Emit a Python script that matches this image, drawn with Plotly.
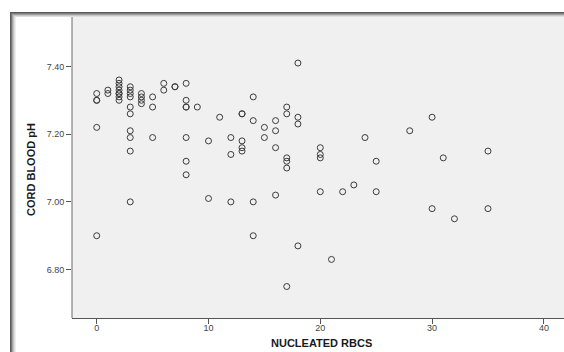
import plotly.graph_objects as go

# Data (NUCLEATED RBCS vs CORD BLOOD pH)
nucleated_rbcs = (
    [0] * 5 + [1] * 2 + [2] * 8 + [3] * 10 + [4] * 4 + [5] * 3 + [6] * 2 + [7] * 2 +
    [8] * 7 + [9] + [10] * 2 + [11] + [12] * 3 + [13] * 5 + [14] * 4 + [15] * 2 +
    [16] * 4 + [17] * 6 + [18] * 4 + [20] * 4 + [21] + [22] + [23] + [24] + [25] * 2 +
    [28] + [30] * 2 + [31] + [32] + [35] * 2
)
cord_blood_ph = [
    7.32, 7.30, 7.30, 7.22, 6.90,                     # 0
    7.33, 7.32,                                       # 1
    7.36, 7.35, 7.34, 7.33, 7.32, 7.32, 7.31, 7.30,   # 2
    7.34, 7.33, 7.32, 7.31, 7.28, 7.26, 7.21, 7.19, 7.15, 7.00,  # 3
    7.32, 7.31, 7.30, 7.29,                           # 4
    7.31, 7.28, 7.19,                                 # 5
    7.35, 7.33,                                       # 6
    7.34, 7.34,                                       # 7
    7.35, 7.30, 7.28, 7.28, 7.19, 7.12, 7.08,         # 8
    7.28,                                             # 9
    7.18, 7.01,                                       # 10
    7.25,                                             # 11
    7.19, 7.14, 7.00,                                 # 12
    7.26, 7.26, 7.18, 7.16, 7.15,                     # 13
    7.31, 7.24, 7.00, 6.90,                           # 14
    7.22, 7.19,                                       # 15
    7.24, 7.21, 7.16, 7.02,                           # 16
    7.28, 7.26, 7.13, 7.12, 7.10, 6.75,               # 17
    7.41, 7.25, 7.23, 6.87,                           # 18
    7.16, 7.14, 7.13, 7.03,                           # 20
    6.83,                                             # 21
    7.03,                                             # 22
    7.05,                                             # 23
    7.19,                                             # 24
    7.12, 7.03,                                       # 25
    7.21,                                             # 28
    7.25, 6.98,                                       # 30
    7.13,                                             # 31
    6.95,                                             # 32
    7.15, 6.98,                                       # 35
]

x_ticks = [0, 10, 20, 30, 40]
x_tick_labels = ["0", "10", "20", "30", "40"]
y_ticks = [6.80, 7.00, 7.20, 7.40]
y_tick_labels = ["6.80", "7.00", "7.20", "7.40"]

W, H = 564, 352
L, R, T, B = 72, 0, 17, 34
pw, ph = W - L - R, H - T - B


def px(x):
    return (x - L) / pw


def py(y):
    return (H - B - y) / ph


fig = go.Figure()
fig.add_trace(go.Scatter(
    x=nucleated_rbcs, y=cord_blood_ph, mode="markers",
    marker=dict(symbol="circle-open", size=6, color="#3c3c3c",
                line=dict(width=1, color="#3c3c3c")),
    hoverinfo="x+y", showlegend=False,
))

shapes = []
# frame shadow gradient (left and top)
grads = ["#5a5a5a", "#7a7a7a", "#a0a0a0", "#c4c4c4", "#dedede", "#eeeeee"]
for i, c in enumerate(grads):
    shapes.append(dict(type="rect", xref="paper", yref="paper",
                       x0=px(10 + i), x1=px(11 + i), y0=py(12 + i), y1=py(H + 5),
                       line=dict(width=0), fillcolor=c, layer="above"))
for i, c in enumerate(grads[:5]):
    shapes.append(dict(type="rect", xref="paper", yref="paper",
                       x0=px(10 + i), x1=px(W + 5), y0=py(12 + i), y1=py(13 + i),
                       line=dict(width=0), fillcolor=c, layer="above"))
# plot-area left border
shapes.append(dict(type="line", xref="paper", yref="paper",
                   x0=0, x1=0, y0=0, y1=1, line=dict(color="#6a6a6a", width=1)))

fig.update_layout(
    width=W, height=H,
    margin=dict(l=L, r=R, t=T, b=B),
    paper_bgcolor="#ffffff",
    plot_bgcolor="#f0f0f0",
    font=dict(family="Liberation Sans, Arial, sans-serif", color="#333333", size=9),
    shapes=shapes,
    xaxis=dict(range=[-2.21, 41.8], tickvals=x_ticks, ticktext=x_tick_labels,
               showgrid=False, zeroline=False, showline=True, linecolor="#555555",
               linewidth=1, ticks="outside", ticklen=5, tickcolor="#555555",
               ticklabelstandoff=-4,
               tickfont=dict(size=9, color="#444444")),
    yaxis=dict(range=[6.657, 7.546], tickvals=y_ticks, ticktext=y_tick_labels,
               showgrid=False, zeroline=False, showline=False,
               ticks="outside", ticklen=5, tickcolor="#555555",
               tickfont=dict(size=9, color="#444444")),
    annotations=[
        dict(text="<b>NUCLEATED RBCS</b>", xref="paper", yref="paper",
             x=px(321), y=py(343), xanchor="center", yanchor="middle",
             showarrow=False, font=dict(size=11, color="#1a1a1a")),
        dict(text="<b>CORD BLOOD pH</b>", xref="paper", yref="paper",
             x=px(31), y=py(170), xanchor="center", yanchor="middle",
             showarrow=False, textangle=-90,
             font=dict(size=11, color="#1a1a1a")),
    ],
)

fig.write_html("out.html", config={"displayModeBar": False},
               post_script="document.body.style.margin='0';document.body.style.overflow='hidden';")
